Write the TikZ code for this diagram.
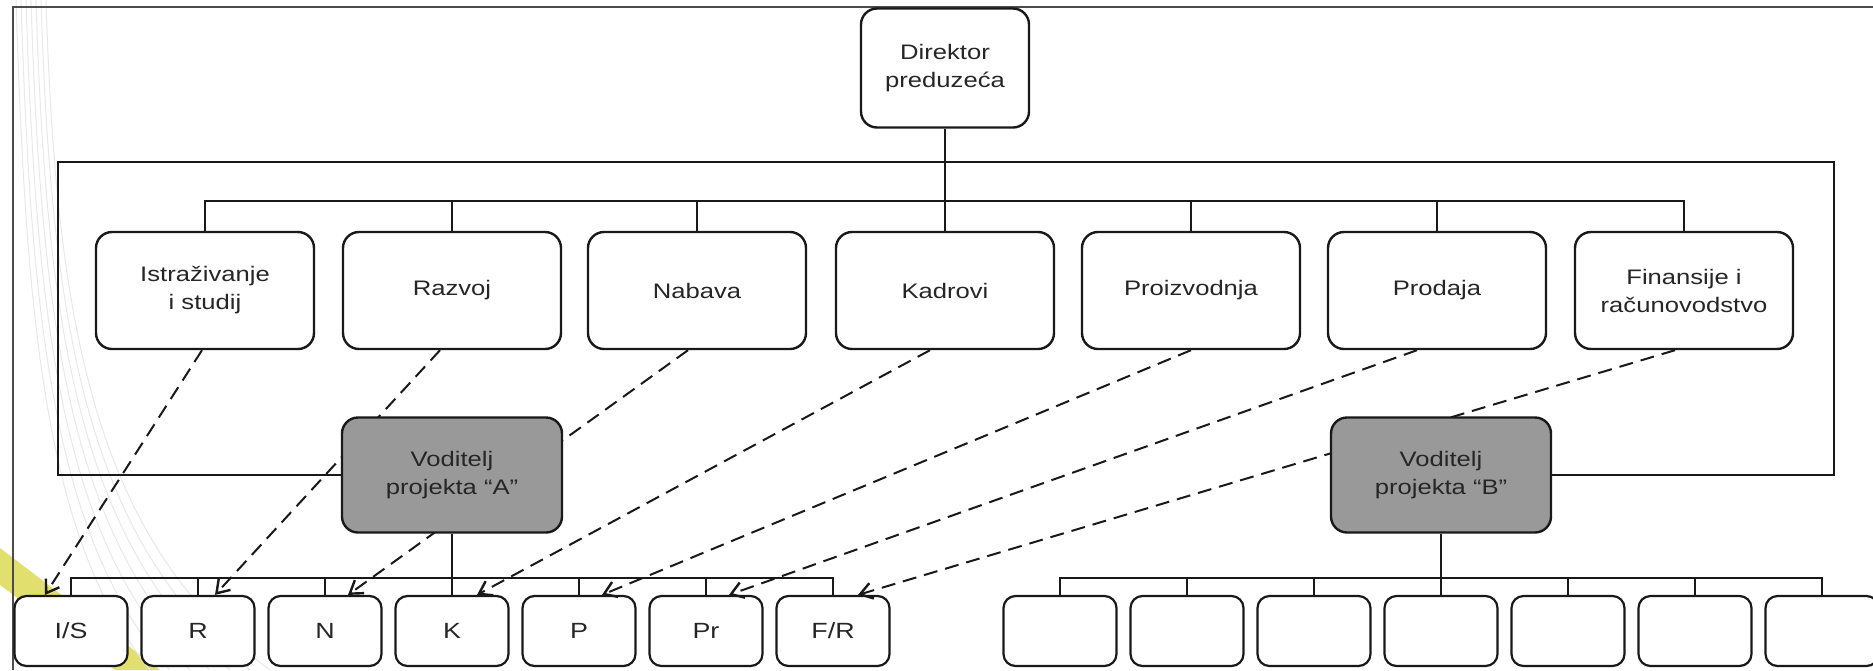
\documentclass[tikz,border=0pt]{standalone}
\usepackage{fontspec}
\setmainfont{Liberation Sans}[FakeStretch=1.22]
\usetikzlibrary{arrows.meta}

\definecolor{zuta}{RGB}{215,212,60}

\tikzset{
  odjel/.style={draw=black!90, line width=1.2pt, rounded corners=8pt, fill=white,
    minimum width=109pt, minimum height=58.5pt, align=center, text=black!85,
    font=\fontsize{10.5}{14}\selectfont},
  voditelj/.style={odjel, fill=black!40, minimum width=110pt, minimum height=57.5pt},
  tim/.style={draw=black!90, line width=1.1pt, rounded corners=6pt, fill=white,
    minimum width=56.5pt, minimum height=35pt, text=black!85,
    font=\fontsize{11}{13}\selectfont},
  veza/.style={draw=black!90, line width=1pt},
  crta/.style={draw=black!90, line width=1pt, dash pattern=on 7pt off 4pt,
    -{Straight Barb[length=6pt,width=8pt,line width=1.2pt]}},
}

\begin{document}
\begin{tikzpicture}[x=0.5pt, y=-0.5pt]
  \useasboundingbox (0,0) rectangle (1873,670);
  % Slide background
  \fill[zuta, opacity=0.75] (0,548) -- (0,585) -- (115,670) -- (160,670) -- cycle;
  \foreach \i in {0,...,6}
    \draw[gray!18, line width=0.5pt] (16+5*\i,0) .. controls (26+5*\i,320) and (45+8*\i,540) .. (150+20*\i,670);
  \draw[black!70, line width=0.6pt] (13,670) -- (13,7) -- (1873,7);
  % Director
  \node[odjel, minimum width=84pt, minimum height=59.5pt] (dir) at (945,68) {Direktor\\preduzeća};
  % Functional departments
  \node[odjel] (ist) at (205,290.5) {Istraživanje\\i studij};
  \node[odjel] (raz) at (452,290.5) {Razvoj};
  \node[odjel] (nab) at (697,290.5) {Nabava};
  \node[odjel] (kad) at (945,290.5) {Kadrovi};
  \node[odjel] (pro) at (1191,290.5) {Proizvodnja};
  \node[odjel] (prod) at (1437,290.5) {Prodaja};
  \node[odjel] (fin) at (1684,290.5) {Finansije i\\računovodstvo};
  % Project team A
  \node[tim] (is) at (71,631) {I/S};
  \node[tim] (r) at (198,631) {R};
  \node[tim] (n) at (325,631) {N};
  \node[tim] (k) at (452,631) {K};
  \node[tim] (p) at (579,631) {P};
  \node[tim] (pr) at (706,631) {Pr};
  \node[tim] (fr) at (833,631) {F/R};
  % Project team B
  \foreach \x [count=\i] in {1060,1187,1314,1441,1568,1695,1822}
    \node[tim] (b\i) at (\x,631) {};
  % Staff lent to project A
  \draw[crta] ([xshift=-1.5pt]ist.south) -- ([xshift=-13pt]is.north);
  \draw[crta] ([xshift=-6pt]raz.south) -- ([xshift=8.5pt]r.north);
  \draw[crta] ([xshift=-4.5pt]nab.south) -- ([xshift=11.5pt]n.north);
  \draw[crta] ([xshift=-7.5pt]kad.south) -- ([xshift=12.5pt]k.north);
  \draw[crta] (pro.south) -- ([xshift=11.5pt]p.north);
  \draw[crta] ([xshift=-10pt]prod.south) -- ([xshift=11.5pt]pr.north);
  \draw[crta] ([xshift=-4.5pt]fin.south) -- ([xshift=12.5pt]fr.north);
  % Project managers
  \node[voditelj] (va) at (452,475) {Voditelj\\projekta “A”};
  \node[voditelj] (vb) at (1441,475) {Voditelj\\projekta “B”};
  % Frame of the functional part
  \draw[veza] (va.west) -| (58,162) -- (1834,162) |- (vb.east);
  % Director to departments
  \draw[veza] (dir.south) -- (kad.north);
  \draw[veza] (ist.north) -- ++(0,-30) -| (fin.north);
  \foreach \o in {raz,nab,pro,prod} \draw[veza] (\o.north) -- ++(0,-30);
  % Managers to teams
  \draw[veza] (va.south) -- (k.north);
  \draw[veza] (is.north) -- ++(0,-17) -| (fr.north);
  \foreach \t in {r,n,p,pr} \draw[veza] (\t.north) -- ++(0,-17);
  \draw[veza] (vb.south) -- (b4.north);
  \draw[veza] (b1.north) -- ++(0,-17) -| (b7.north);
  \foreach \i in {2,3,5,6} \draw[veza] (b\i.north) -- ++(0,-17);
\end{tikzpicture}
\end{document}
